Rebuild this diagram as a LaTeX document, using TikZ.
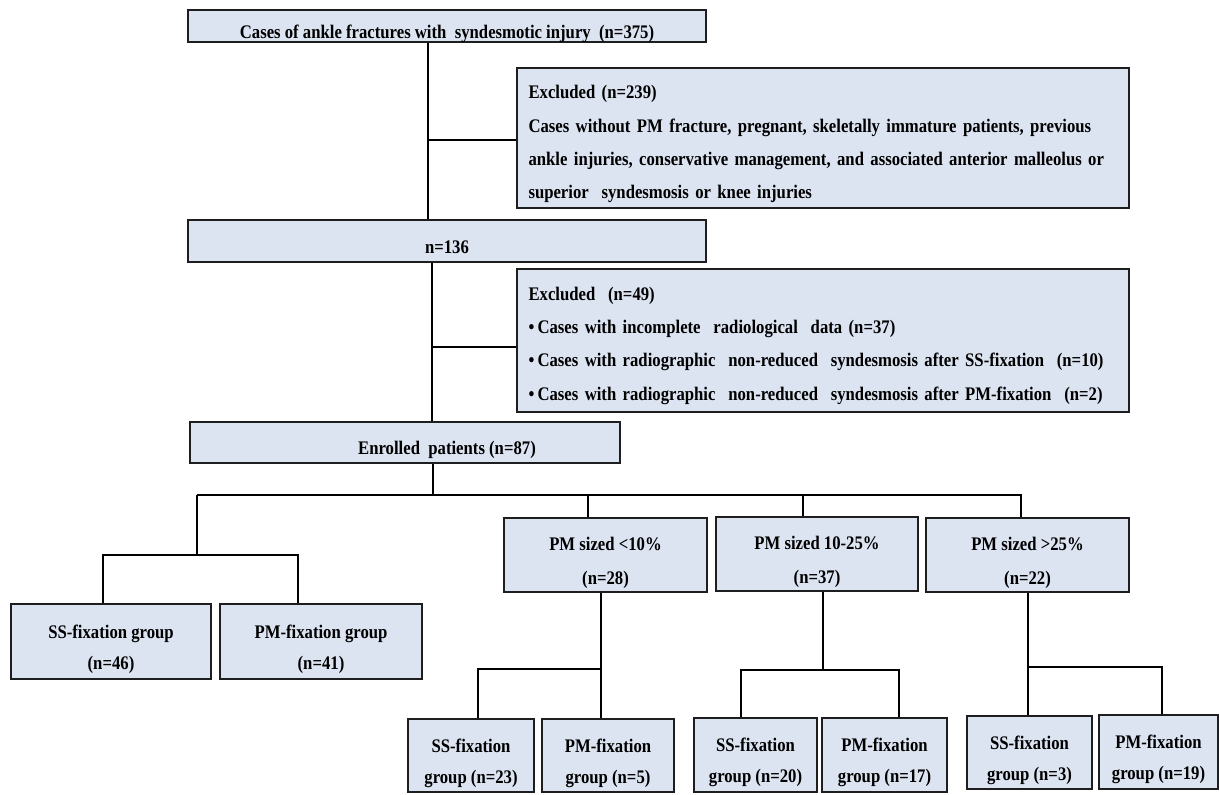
\documentclass[tikz,border=0pt]{standalone}
\usepackage{fontspec}
\setmainfont{Liberation Serif}[FakeStretch=0.87]
\definecolor{boxfill}{RGB}{220,228,242}
\definecolor{boxline}{RGB}{30,30,30}

\begin{document}
\begin{tikzpicture}[x=0.75pt, y=-0.75pt,
    box/.style={draw=boxline, fill=boxfill, line width=1.5pt, inner sep=0pt,
      font=\fontsize{14.4}{24}\selectfont\bfseries, align=center},
    onebox/.style={box, text height=21pt, text depth=3pt},
    sizebox/.style={box, text height=47pt, font=\fontsize{14.4}{25.5}\selectfont\bfseries},
    groupbox/.style={box, text height=44.5pt, font=\fontsize{14.4}{23.25}\selectfont\bfseries},
    link/.style={draw=black, line width=1.2pt}]
  \useasboundingbox (0,0) rectangle (1219,794);
  \node[onebox, minimum width=388.5pt, minimum height=24pt] (cases) at (447,26)
    {Cases of ankle fractures with \ syndesmotic injury \ (n=375)};
  \node[box, minimum width=459pt, minimum height=105pt, text width=441.75pt, align=left,
    text height=19pt, font=\fontsize{14.4}{24.9}\selectfont\bfseries] (excla) at (823,138)
    {Excluded (n=239)\\
     \makebox[441.75pt][s]{Cases without PM fracture, pregnant, skeletally immature patients, previous}\\
     \makebox[441.75pt][s]{ankle injuries, conservative management, and associated anterior malleolus or}\\
     superior \ syndesmosis or knee injuries};
  \node[onebox, minimum width=388.5pt, minimum height=31.5pt] (total) at (447,241) {n=136};
  \node[box, minimum width=459pt, minimum height=107.25pt, text width=441.75pt, align=left,
    text height=18pt, font=\fontsize{14.4}{24.9}\selectfont\bfseries] (exclb) at (823,340.5)
    {Excluded \ (n=49)\\
     \textbullet\,Cases with incomplete \ radiological \ data (n=37)\\
     \textbullet\,Cases with radiographic \ non-reduced \ syndesmosis after SS-fixation \ (n=10)\\
     \textbullet\,Cases with radiographic \ non-reduced \ syndesmosis after PM-fixation \ (n=2)};
  \node[onebox, minimum width=322.5pt, minimum height=30.75pt] (enrol) at (405,442.5)
    {\hspace*{63pt}Enrolled \ patients (n=87)};

  \node[groupbox, minimum width=150pt, minimum height=56.25pt] (ssall) at (111,641.5) {SS-fixation group\\(n=46)};
  \node[groupbox, minimum width=151.5pt, minimum height=56.25pt] (pmall) at (321,641.5) {PM-fixation group\\(n=41)};

  \node[sizebox, minimum width=152.25pt, minimum height=55.5pt] (small) at (605.5,555) {PM sized <10\%\\(n=28)};
  \node[sizebox, minimum width=151.5pt, minimum height=55.5pt] (medium) at (817,554) {PM sized 10-25\%\\(n=37)};
  \node[sizebox, minimum width=152.25pt, minimum height=55.5pt] (large) at (1027.5,555) {PM sized >25\%\\(n=22)};

  \node[groupbox, minimum width=94.5pt, minimum height=54.75pt] (ssa) at (471,755.5) {SS-fixation\\group (n=23)};
  \node[groupbox, minimum width=99pt, minimum height=54.75pt] (pma) at (608,755.5) {PM-fixation\\group (n=5)};
  \node[groupbox, minimum width=92.25pt, minimum height=55.5pt] (ssb) at (755.5,755) {SS-fixation\\group (n=20)};
  \node[groupbox, minimum width=93.75pt, minimum height=55.5pt] (pmb) at (884.5,755) {PM-fixation\\group (n=17)};
  \node[groupbox, minimum width=93.75pt, minimum height=54.75pt] (ssc) at (1029.5,752.5) {SS-fixation\\group (n=3)};
  \node[groupbox, minimum width=89.25pt, minimum height=55.5pt] (pmc) at (1158.5,752) {PM-fixation\\group (n=19)};

  % screening
  \coordinate (j1) at (428,140);
  \coordinate (j2) at (432,347);
  \draw[link] (cases.south -| j1) -- (total.north -| j1) (j1) -- (excla.west |- j1);
  \draw[link] (total.south -| j2) -- (enrol.north -| j2) (j2) -- (exclb.west |- j2);

  % split of enrolled patients
  \coordinate (s0) at (433,495);
  \coordinate (sl) at (197,495);
  \coordinate (d1) at (588,495);
  \coordinate (d2) at (803,495);
  \coordinate (sr) at (1021,495);
  \draw[link] (enrol.south -| s0) -- (s0);
  \draw[link] (sl) -- (sr) -- (large.north -| sr);
  \draw[link] (d1) -- (small.north -| d1);
  \draw[link] (d2) -- (medium.north -| d2);

  \coordinate (fa) at (103,555);
  \coordinate (fb) at (298,555);
  \draw[link] (sl) -- (sl |- fa);
  \draw[link] (ssall.north -| fa) -- (fa) -- (fb) -- (pmall.north -| fb);

  % fixation per PM size
  \coordinate (e1) at (601,669);
  \coordinate (e1l) at (478,669);
  \draw[link] (small.south -| e1) -- (pma.north -| e1);
  \draw[link] (ssa.north -| e1l) -- (e1l) -- (e1);
  \coordinate (e2) at (823,670);
  \coordinate (e2l) at (741,670);
  \coordinate (e2r) at (899,670);
  \draw[link] (medium.south -| e2) -- (e2);
  \draw[link] (ssb.north -| e2l) -- (e2l) -- (e2r) -- (pmb.north -| e2r);
  \coordinate (e3) at (1028,667);
  \coordinate (e3r) at (1162,667);
  \draw[link] (large.south -| e3) -- (ssc.north -| e3);
  \draw[link] (e3) -- (e3r) -- (pmc.north -| e3r);
\end{tikzpicture}
\end{document}
